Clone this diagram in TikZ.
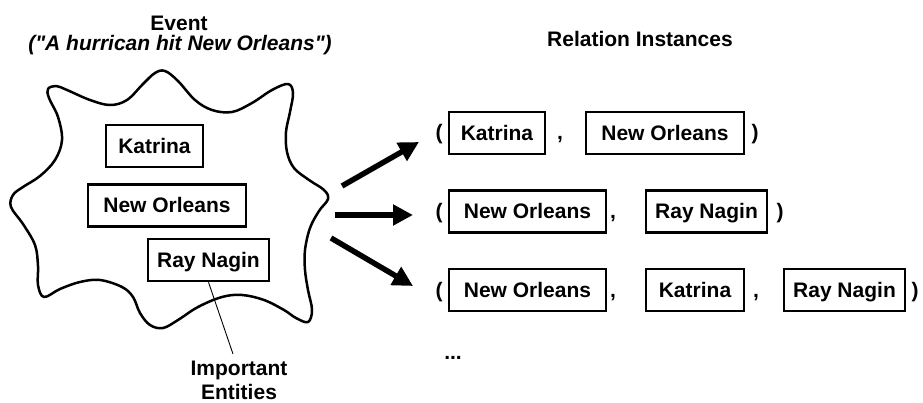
\documentclass[tikz,border=0pt]{standalone}
\usepackage{fontspec}
\setmainfont{Liberation Sans}[Ligatures=TeXOff]
\usetikzlibrary{arrows.meta}
\begin{document}
\begin{tikzpicture}[x=1pt,y=-1pt,
  every node/.style={font=\fontsize{21}{24}\selectfont\bfseries, inner sep=0pt},
  ebox/.style={draw, line width=2.5pt, minimum height=42pt, text height=14.5pt, text depth=0pt},
  sym/.style={anchor=base},
  bigarrow/.style={line width=5.5pt, -{Triangle[length=20pt,width=20pt]}}
]
\useasboundingbox (0,0) rectangle (923,403);

% titles
\node[anchor=base] (ev) at (179,31) {Event};
\node[anchor=base, font=\fontsize{21}{24}\selectfont\bfseries\itshape] (evq) at (180,51) {("A hurrican hit New Orleans")};
\node[anchor=base] (ri) at (640,47) {Relation Instances};

% cloud
\draw[line width=2.5pt, line join=round] plot[smooth cycle, tension=0.6] coordinates {
 (165,71) (178,81) (195,100) (212,110) (232,112) (252,103) (272,90) (288,84) (293,93)
 (290,112) (286,132) (287,152) (294,168) (309,180) (324,190) (328,199)
 (319,211) (310,228) (305,250) (305,270) (308,290) (312,310) (308,322)
 (296,318) (284,310) (264,300) (242,295) (222,297) (198,307) (178,320) (163,328)
 (150,325) (140,313) (133,297) (122,287) (100,280) (80,282) (60,289) (44,297)
 (38,285) (38,266) (35,245) (23,224) (11,207) (13,195) (23,187) (40,176) (55,160)
 (62,140) (58,117) (49,98) (48,89) (56,86) (67,90) (90,100) (110,105) (127,100)
 (143,84) (155,73)};

% entity boxes in cloud
\node[ebox, minimum width=97pt] (ka) at (154.5,146) {Katrina};
\node[ebox, minimum width=158pt] (no) at (167,205.5) {New Orleans};
\node[ebox, minimum width=121pt] (rn) at (208.5,260) {Ray Nagin};

% important entities
\node[align=center, anchor=base] (imp) at (239,399) {Important\\[0pt]Entities};
\coordinate (impt) at (233,354);
\draw[line width=0.9pt] (rn.south) -- (impt);

% arrows
\coordinate (a1s) at (342,186); \coordinate (a1e) at (419,142);
\coordinate (a2s) at (335,215); \coordinate (a2e) at (413,215);
\coordinate (a3s) at (331,238); \coordinate (a3e) at (413,286);
\draw[bigarrow] (a1s) -- (a1e);
\draw[bigarrow] (a2s) -- (a2e);
\draw[bigarrow] (a3s) -- (a3e);

% row 1
\node[sym] (l1) at (439,140) {(};
\node[ebox, minimum width=96pt] (k1) at (497,133) {Katrina};
\node[sym] (c1) at (560,140) {,};
\node[ebox, minimum width=158pt] (no1) at (665,133) {New Orleans};
\node[sym] (r1) at (755,140) {)};

% row 2
\node[sym] (l2) at (439,218.5) {(};
\node[ebox, minimum width=157pt] (no2) at (527.5,211.5) {New Orleans};
\node[sym] (c2) at (613,218.5) {,};
\node[ebox, minimum width=121pt] (rn2) at (706.5,211.5) {Ray Nagin};
\node[sym] (r2) at (780,218.5) {)};

% row 3
\node[sym] (l3) at (439,297) {(};
\node[ebox, minimum width=157pt] (no3) at (527.5,290) {New Orleans};
\node[sym] (c3) at (613,297) {,};
\node[ebox, minimum width=98pt] (k3) at (695,290) {Katrina};
\node[sym] (c4) at (756,297) {,};
\node[ebox, minimum width=121pt] (rn3) at (844.5,290) {Ray Nagin};
\node[sym] (r3) at (915,297) {)};

% dots
\node[sym] (dots) at (453,359) {...};
\end{tikzpicture}
\end{document}
